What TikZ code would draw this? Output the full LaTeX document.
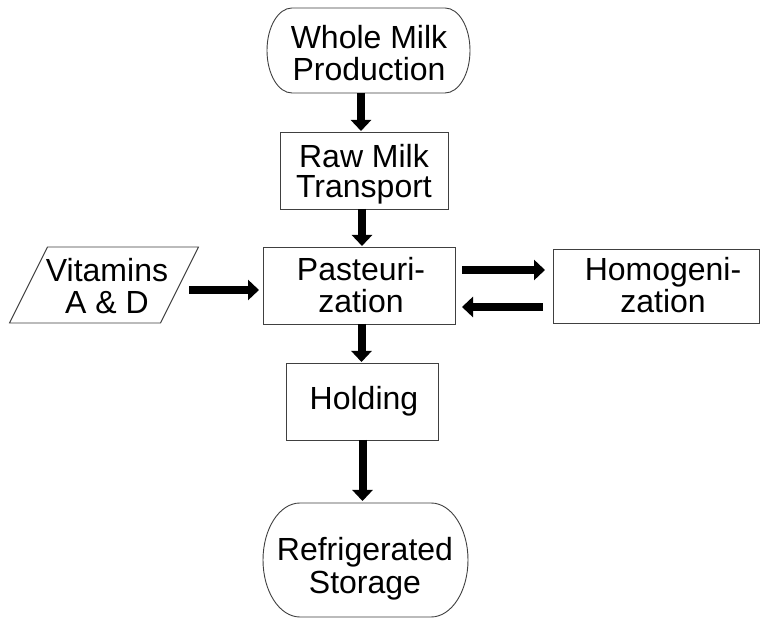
\documentclass[tikz,border=0pt]{standalone}
\usepackage{fontspec}
\setmainfont{Liberation Sans}
\usetikzlibrary{arrows.meta}
\begin{document}
\begin{tikzpicture}[x=1pt,y=1pt,
  shapeline/.style={draw=black!75, line width=0.9pt},
  box/.style={shapeline, fill=white, rectangle, inner sep=0pt, outer sep=0pt, align=center},
  frame/.style={rectangle, draw=none, inner sep=0pt, outer sep=0pt, align=center},
  txt/.style={align=center, inner sep=0pt},
  bigarrow/.style={line width=8pt, -{Triangle[width=20pt,length=11pt]}}
]
\useasboundingbox (0,0) rectangle (760,623);
\fill[white] (0,0) rectangle (760,623);

% Whole Milk Production (stadium)
\node[frame, minimum width=203pt, minimum height=85pt] (whole) at (368.5,572.5) {};
\draw[shapeline] ([xshift=25pt]whole.north west) -- ([xshift=-25pt]whole.north east)
  arc[start angle=90, end angle=-90, x radius=25pt, y radius=42.5pt]
  -- ([xshift=25pt]whole.south west)
  arc[start angle=270, end angle=90, x radius=25pt, y radius=42.5pt] -- cycle;
\node[txt, font=\fontsize{32}{32}\selectfont] at (369,570) {Whole Milk\\Production};

% Raw Milk Transport
\node[box, minimum width=168pt, minimum height=77pt] (raw) at (364,452.5) {};
\node[txt, font=\fontsize{32}{30}\selectfont] at (364,449) {Raw Milk\\Transport};

% Pasteurization
\node[box, minimum width=192pt, minimum height=77pt] (past) at (359,337.5) {};
\node[txt, font=\fontsize{32}{32}\selectfont] at (361,338) {Pasteuri-\\zation};

% Vitamins A & D (parallelogram)
\node[frame, minimum width=189pt, minimum height=76pt] (vit) at (104,338) {};
\draw[shapeline] ([xshift=38pt]vit.north west) -- (vit.north east)
  -- ([xshift=-38pt]vit.south east) -- (vit.south west) -- cycle;
\node[txt, font=\fontsize{32}{32}\selectfont] at (107,337) {Vitamins\\A \& D};

% Homogenization
\node[frame, shapeline, minimum width=206pt, minimum height=74pt] (homog) at (656,337) {};
\node[txt, font=\fontsize{32}{32}\selectfont] at (663,338) {Homogeni-\\zation};

% Holding
\node[box, minimum width=152pt, minimum height=77pt] (hold) at (362,221.5) {};
\node[txt, font=\fontsize{32}{32}\selectfont] at (364,222) {Holding};

% Refrigerated Storage (stadium)
\node[frame, minimum width=205pt, minimum height=114pt] (refrig) at (365.5,63) {};
\draw[shapeline] ([xshift=37pt]refrig.north west) -- ([xshift=-37pt]refrig.north east)
  arc[start angle=90, end angle=-90, x radius=37pt, y radius=57pt]
  -- ([xshift=37pt]refrig.south west)
  arc[start angle=270, end angle=90, x radius=37pt, y radius=57pt] -- cycle;
\node[txt, font=\fontsize{32}{33}\selectfont] at (365,54) {Refrigerated\\Storage};

% Arrows
\draw[bigarrow] ([xshift=-7.5pt]whole.south) -- ([xshift=-3pt,yshift=1pt]raw.north);
\draw[bigarrow] ([xshift=-2pt]raw.south) -- ([xshift=3pt,yshift=1pt]past.north);
\draw[bigarrow] ([xshift=2.5pt]past.south) -- ([xshift=-0.5pt,yshift=1pt]hold.north);
\draw[bigarrow] ([xshift=0.5pt]hold.south) -- ([xshift=-3pt,yshift=2pt]refrig.north);
\draw[bigarrow] ([xshift=-9.5pt,yshift=-5pt]vit.east) -- ([xshift=-4pt,yshift=-4.5pt]past.west);
\draw[bigarrow] ([xshift=7pt,yshift=15.5pt]past.east) -- ([xshift=-8pt,yshift=16pt]homog.west);
\draw[bigarrow] ([xshift=-10pt,yshift=-21pt]homog.west) -- ([xshift=7pt,yshift=-21.5pt]past.east);
\end{tikzpicture}
\end{document}
